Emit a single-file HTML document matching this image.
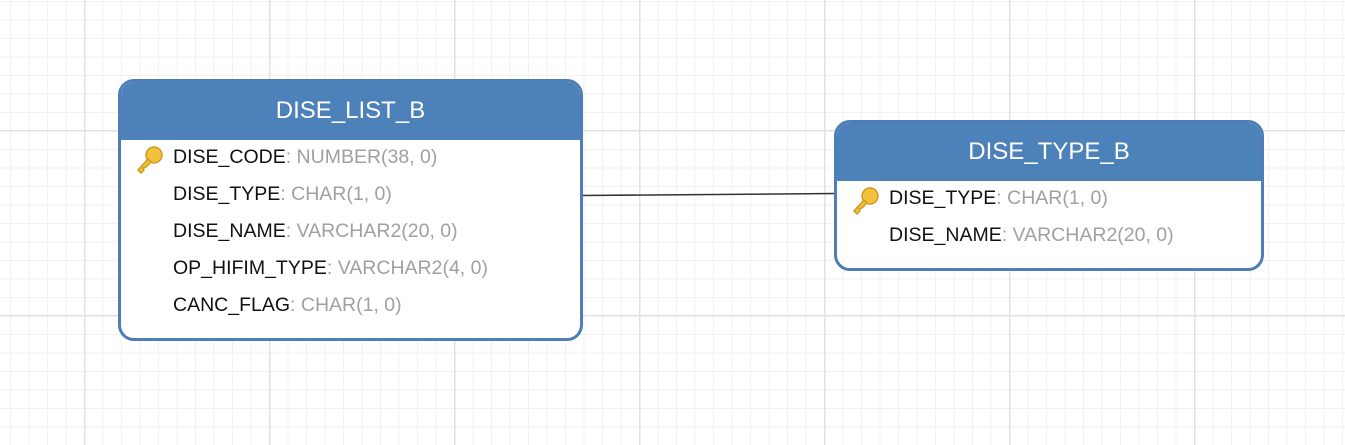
<!DOCTYPE html>
<html><head><style>
body{margin:0;width:1345px;height:445px;overflow:hidden;background:#fff;font-family:"Liberation Sans",sans-serif;position:relative;
background-image:
linear-gradient(#e2e2e2 1.5px,transparent 1.5px),
linear-gradient(90deg,#e2e2e2 1.5px,transparent 1.5px),
linear-gradient(#f1f1f1 1px,transparent 1px),
linear-gradient(90deg,#f1f1f1 1px,transparent 1px);
background-size:185px 185px,185px 185px,18.5px 18.5px,18.5px 18.5px;
background-position:0 130px,84px 0,0 1px,10px 0;}
.t{position:absolute;border:3px solid #4d7fb6;border-radius:16px;background:#fff;box-sizing:border-box;overflow:hidden}
.h{background:#4d81b9;color:#fff;font-size:24px;text-align:center;box-sizing:border-box}
.r{position:absolute;left:52px;font-size:19.5px;color:#111;white-space:nowrap}
.r span{color:#a0a0a0}
.k{position:absolute;left:12px}
</style></head><body>
<svg style="position:absolute;left:0;top:0" width="1345" height="445"><line x1="580" y1="195.5" x2="836" y2="193.5" stroke="#333" stroke-width="1.5"/></svg>
<div class="t" style="left:118px;top:79px;width:465px;height:262px">
<div class="h" style="height:58px;line-height:58px">DISE_LIST_B</div>
<svg class="k" style="top:62px" width="32" height="32" viewBox="0 0 32 32"><circle cx="21" cy="11" r="8" fill="#f2c23c" stroke="#d09a20" stroke-width="1.5"/><path d="M15 15 L5 26 L8 29 L11 26 L10 24 L13 23 L18 18Z" fill="#f2c23c" stroke="#d09a20" stroke-width="1.5"/></svg>
<div class="r" style="top:64px">DISE_CODE<span>: NUMBER(38, 0)</span></div>
<div class="r" style="top:101px">DISE_TYPE<span>: CHAR(1, 0)</span></div>
<div class="r" style="top:138px">DISE_NAME<span>: VARCHAR2(20, 0)</span></div>
<div class="r" style="top:175px">OP_HIFIM_TYPE<span>: VARCHAR2(4, 0)</span></div>
<div class="r" style="top:212px">CANC_FLAG<span>: CHAR(1, 0)</span></div>
</div>
<div class="t" style="left:834px;top:120px;width:430px;height:151px">
<div class="h" style="height:58px;line-height:58px">DISE_TYPE_B</div>
<svg class="k" style="top:62px" width="32" height="32" viewBox="0 0 32 32"><circle cx="21" cy="11" r="8" fill="#f2c23c" stroke="#d09a20" stroke-width="1.5"/><path d="M15 15 L5 26 L8 29 L11 26 L10 24 L13 23 L18 18Z" fill="#f2c23c" stroke="#d09a20" stroke-width="1.5"/></svg>
<div class="r" style="top:64px">DISE_TYPE<span>: CHAR(1, 0)</span></div>
<div class="r" style="top:101px">DISE_NAME<span>: VARCHAR2(20, 0)</span></div>
</div>
</body></html>
